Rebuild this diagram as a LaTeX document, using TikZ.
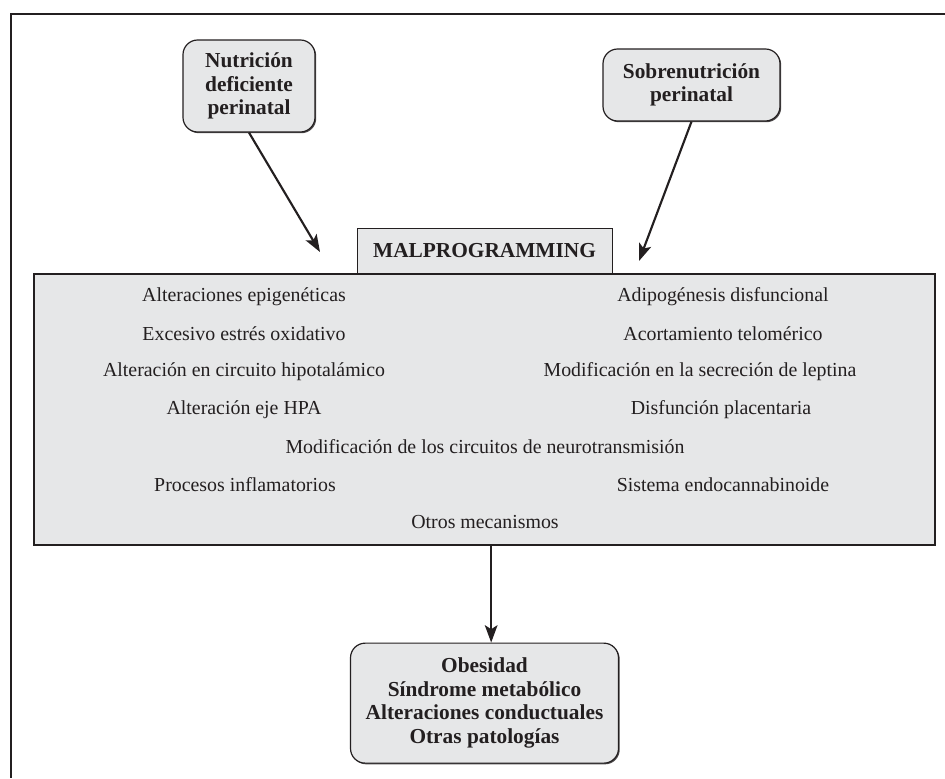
\documentclass[tikz,border=0pt]{standalone}
\usepackage{fontspec}
\setmainfont{Liberation Serif}
\usetikzlibrary{arrows.meta, positioning, shadows}
\definecolor{boxgray}{HTML}{E6E7E8}
\definecolor{inkdark}{HTML}{231F20}
\tikzset{
  causebox/.style={rectangle, rounded corners=11pt, draw=inkdark, fill=boxgray,
                   line width=0.9pt, align=center, inner sep=2pt,
                   font=\fontsize{16pt}{17.7pt}\selectfont\bfseries, text=inkdark,
                   drop shadow={shadow xshift=0.9pt, shadow yshift=-0.9pt,
                                fill=inkdark, opacity=0.8}},
  tabbox/.style={rectangle, draw=inkdark, fill=boxgray, line width=0.7pt,
                 minimum width=191.25pt, minimum height=33.75pt, text=inkdark,
                 font=\fontsize{16pt}{17.7pt}\selectfont\bfseries},
  panel/.style={rectangle, draw=inkdark, fill=boxgray, line width=0.8pt,
                minimum width=675.75pt, minimum height=203.25pt,
                drop shadow={shadow xshift=0.9pt, shadow yshift=-0.9pt,
                             fill=inkdark, opacity=0.8}},
  item/.style={font=\fontsize{14.9pt}{17pt}\selectfont, text=inkdark, inner sep=0pt},
  arr/.style={-{Stealth[length=13pt, width=9.5pt, inset=3pt]}, line width=1.6pt, draw=inkdark},
}
\begin{document}
\begin{tikzpicture}[x=0.75pt, y=-0.75pt]
  \useasboundingbox (0,0) rectangle (945,778);
  % frame: only top and left edges are on the page
  \draw[inkdark, line width=1.2pt] (945,14) -- (11,14) -- (11,778);

  % causes
  \node[causebox, minimum width=99pt, minimum height=69pt] (under) at (249,86)
    {Nutrición\\deficiente\\perinatal};
  \node[causebox, minimum width=132.75pt, minimum height=54pt] (over) at (691.5,85)
    {Sobrenutrición\\perinatal};

  % mechanisms
  \node[panel] (malprog) at (484.5,409.5) {};
  \node[tabbox, above=0pt of malprog] (tab) {MALPROGRAMMING};
  \node[item] (epig) at (244,297) {Alteraciones epigenéticas};
  \node[item] (adip) at (723,297) {Adipogénesis disfuncional};
  \node[item] (oxid) at (244,334) {Excesivo estrés oxidativo};
  \node[item] (telo) at (723,334) {Acortamiento telomérico};
  \node[item] (hipo) at (244,372) {Alteración en circuito hipotalámico};
  \node[item] (lept) at (700,372) {Modificación en la secreción de leptina};
  \node[item] (hpa)  at (244,410) {Alteración eje HPA};
  \node[item] (plac) at (721,410) {Disfunción placentaria};
  \node[item] (neur) at (485,447) {Modificación de los circuitos de neurotransmisión};
  \node[item] (infl) at (245,485) {Procesos inflamatorios};
  \node[item] (endo) at (723,485) {Sistema endocannabinoide};
  \node[item] (otro) at (485,522) {Otros mecanismos};

  % outcomes
  \node[causebox, minimum width=201pt, minimum height=90pt, below=72.75pt of malprog]
    (effects) {Obesidad\\Síndrome metabólico\\Alteraciones conductuales\\Otras patologías};

  \coordinate (tipL) at (320,252);
  \coordinate (tipR) at (639,261);
  \draw[arr] (under.south) -- (tipL);
  \draw[arr] (over.south) -- (tipR);
  \draw[arr] ([xshift=5pt]malprog.south) -- ([xshift=5pt]effects.north);
\end{tikzpicture}
\end{document}
